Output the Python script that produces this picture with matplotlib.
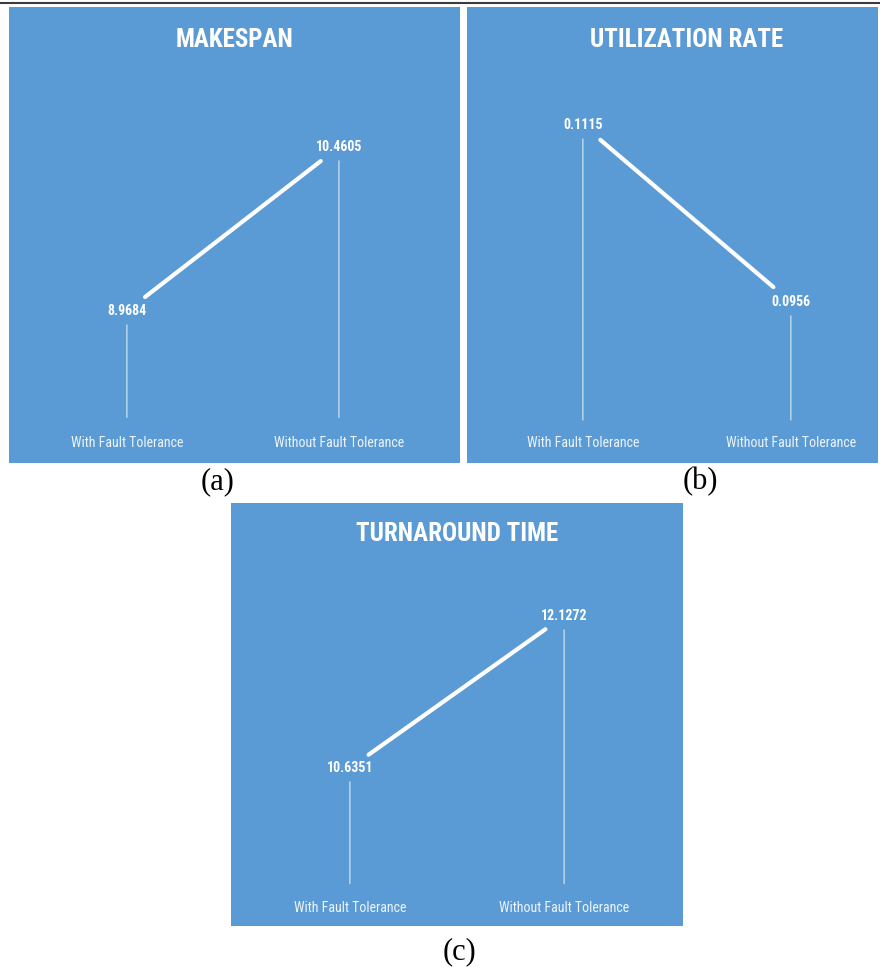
import matplotlib
matplotlib.use("Agg")
import matplotlib.pyplot as plt
from matplotlib import font_manager
from matplotlib.lines import Line2D

# data
categories = ["With Fault Tolerance", "Without Fault Tolerance"]
makespan = [8.9684, 10.4605]
utilization = [0.1115, 0.0956]
turnaround = [10.6351, 12.1272]
titles = ["MAKESPAN", "UTILIZATION RATE", "TURNAROUND TIME"]
panel_tags = ["(a)", "(b)", "(c)"]
axis_floor = [8.0, 0.085, 9.5]

BLUE = "#5b9bd5"
W, H = 880, 967

installed = {f.name for f in font_manager.fontManager.ttflist}
NARROW = next(
    (n for n in ["Roboto Condensed", "Liberation Sans Narrow",
                 "DejaVu Sans Condensed", "Open Sans Condensed"] if n in installed),
    "Roboto",
)

fig = plt.figure(figsize=(W / 100, H / 100), dpi=100)


def px_box(left, top, right, bottom):
    return [left / W, 1 - bottom / H, (right - left) / W, (bottom - top) / H]


# axes box in pixels, x limits, y limits, title x (axes fraction), tag position
layout = [
    (px_box(9, 7, 460, 463), (-0.556, 1.571), (7.586, 11.734), 0.50, (218, 482)),
    (px_box(467, 7, 878, 463), (-0.557, 1.419), (0.08113, 0.1221), 0.535, (700, 482)),
    (px_box(231, 503, 683, 926), (-0.555, 1.555), (9.0844, 13.236), 0.50, (459, 952)),
]
series = [makespan, utilization, turnaround]


def draw_panel(values, title, floor, box, xlim, ylim, title_x):
    ax = fig.add_axes(box)
    ax.set_facecolor(BLUE)
    for s in ax.spines.values():
        s.set_visible(False)
    ax.set_xticks([])
    ax.set_yticks([])
    ax.set_xlim(*xlim)
    ax.set_ylim(*ylim)

    xs = range(len(values))
    # connecting line, shortened at both ends to clear the labels
    ax.annotate("", xy=(1, values[1]), xytext=(0, values[0]),
                arrowprops=dict(arrowstyle="-", color="white", lw=3,
                                shrinkA=16.5, shrinkB=16.5))
    for x, v in zip(xs, values):
        # drop line from the point down to the axis floor
        ax.annotate("", xy=(x, floor), xytext=(x, v),
                    arrowprops=dict(arrowstyle="-", color="white", lw=0.9,
                                    alpha=0.7, shrinkA=10, shrinkB=0))
        ax.text(x, v, f"{v:.4f}", ha="center", va="center", color="white",
                fontsize=10, fontweight="bold", family=NARROW, fontstretch="condensed")
        ax.text(x, 0.043, categories[x], transform=ax.get_xaxis_transform(),
                ha="center", va="center", color="#eef4fa", fontsize=10,
                family=NARROW, fontstretch="condensed")
    ax.text(title_x, 0.927, title, transform=ax.transAxes, ha="center", va="center",
            color="white", fontsize=18, fontweight="bold", family=NARROW,
            fontstretch="condensed")
    return ax


for vals, title, floor, tag, (box, xlim, ylim, tx, (lx, ly)) in zip(
        series, titles, axis_floor, panel_tags, layout):
    draw_panel(vals, title, floor, box, xlim, ylim, tx)
    fig.text(lx / W, 1 - ly / H, tag, ha="center", va="center",
             fontsize=22, family="Liberation Serif")

# page rule at the very top
fig.add_artist(Line2D([0, 1], [1 - 3 / H, 1 - 3 / H], transform=fig.transFigure,
                      color="#3c3c3c", lw=1.5))

fig.savefig("out.png", dpi=100, facecolor="white")
